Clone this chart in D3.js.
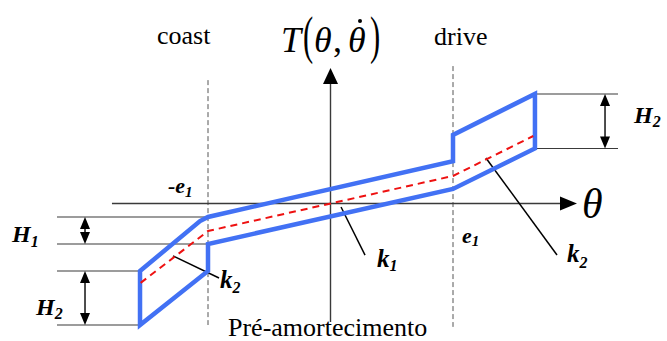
<!DOCTYPE html>
<html>
<head>
<meta charset="utf-8">
<script src="https://cdn.jsdelivr.net/npm/d3@7"></script>
<style>
  html, body { margin: 0; padding: 0; background: #fff; }
  svg { display: block; }
  text { font-family: "Liberation Serif", "Times New Roman", serif; fill: #000; }
</style>
</head>
<body>
<svg id="chart" width="667" height="341"></svg>
<script>
// Torque characteristic of the clutch damper: angle theta vs. torque T.
// Hysteresis band (blue) around the mean stiffness curve (red dashed).
const bandTheta  = [-1.555, -1.065, -1.0, 1.0, 1.0, 1.669, 1.669, 1.0, -1.0, -1.0, -1.555];
const bandTorque = [-2.5, -0.65, -0.5, 1.57, 2.54, 4.06, 2.04, 0.54, -1.5, -2.5, -4.5];

const meanTheta  = [-1.55, -1.0, 1.0, 1.655];
const meanTorque = [-2.94, -1.02, 1.02, 2.5];

// clearance stops: -e1 (coast) and e1 (drive)
const stopTheta  = [-1.0, 1.0];
const stopTop    = [4.57, 5.09];
const stopBottom = [-4.5, -4.57];

// axis extents
const thetaAxis  = [-1.784, 2.012];
const torqueAxis = [-4.39, 5.02];

// dimension marks: [name, theta of arrow, torque from, torque to, extension line from, to]
const dimName   = ["H1", "H2", "H2"];
const dimArrow  = [-2.004, -2.004, 2.241];
const dimFrom   = [-0.5, -2.5, 4.056];
const dimTo     = [-1.5, -4.5, 2.037];
const dimLineA  = [-2.233, -2.233, 1.669];
const dimLineB  = [-1.0, -1.555, 2.347];

// leader lines for stiffness labels
const leaderName = ["k1", "k2", "k2"];
const leaderFrom = [[0.086, -0.13], [-1.286, -1.94], [1.269, 1.685]];
const leaderTo   = [[0.282, -1.91], [-0.91, -2.76], [1.849, -1.907]];

const svg = d3.select("#chart");
const x = d3.scaleLinear().domain([-1, 1]).range([208, 453]);
const y = d3.scaleLinear().domain([0, 1]).range([203.5, 176.5]);

const axisColor = "#3a3a3a";

// dashed guides at the clearance stops
stopTheta.forEach((t, i) => {
  svg.append("line")
    .attr("x1", x(t)).attr("x2", x(t))
    .attr("y1", y(stopTop[i])).attr("y2", y(stopBottom[i]))
    .attr("stroke", "#555").attr("stroke-width", 1)
    .attr("stroke-dasharray", "5,3");
});

// extension lines of the dimension marks
dimName.forEach((n, i) => {
  [dimFrom[i], dimTo[i]].forEach(v => {
    svg.append("line")
      .attr("x1", x(dimLineA[i])).attr("x2", x(dimLineB[i]))
      .attr("y1", y(v)).attr("y2", y(v))
      .attr("stroke", axisColor).attr("stroke-width", 1.2);
  });
});

// axes
svg.append("line")
  .attr("x1", x(thetaAxis[0])).attr("x2", x(thetaAxis[1]) - 14)
  .attr("y1", y(0)).attr("y2", y(0))
  .attr("stroke", axisColor).attr("stroke-width", 1.4);
svg.append("line")
  .attr("x1", x(0)).attr("x2", x(0))
  .attr("y1", y(torqueAxis[0])).attr("y2", y(torqueAxis[1]) + 14)
  .attr("stroke", axisColor).attr("stroke-width", 1.4);

function arrowHead(tx, ty, dx, dy, len, half) {
  // tip at (tx,ty), pointing along unit vector (dx,dy)
  const bx = tx - dx * len, by = ty - dy * len;
  const px = -dy * half, py = dx * half;
  svg.append("path")
    .attr("d", `M${tx},${ty}L${bx + px},${by + py}L${bx - px},${by - py}Z`)
    .attr("fill", "#000");
}
arrowHead(x(thetaAxis[1]), y(0), 1, 0, 17, 7);
arrowHead(x(0), y(torqueAxis[1]), 0, -1, 16, 7.5);

// dimension arrows
dimName.forEach((n, i) => {
  const xa = x(dimArrow[i]);
  const y1 = y(dimFrom[i]), y2 = y(dimTo[i]);
  const top = Math.min(y1, y2), bot = Math.max(y1, y2);
  const len = Math.min(12, (bot - top) / 2 + 1);
  svg.append("line")
    .attr("x1", xa).attr("x2", xa).attr("y1", top + len - 1).attr("y2", bot - len + 1)
    .attr("stroke", "#000").attr("stroke-width", 1.4);
  arrowHead(xa, top, 0, -1, len, 5);
  arrowHead(xa, bot, 0, 1, len, 5);
});

// leader lines
leaderName.forEach((n, i) => {
  svg.append("line")
    .attr("x1", x(leaderFrom[i][0])).attr("y1", y(leaderFrom[i][1]))
    .attr("x2", x(leaderTo[i][0])).attr("y2", y(leaderTo[i][1]))
    .attr("stroke", "#000").attr("stroke-width", 1.5);
});

// hysteresis band
const line = d3.line().x(d => x(d[0])).y(d => y(d[1]));
svg.append("path")
  .attr("d", line(d3.zip(bandTheta, bandTorque)) + "Z")
  .attr("fill", "none")
  .attr("stroke", "#4271f4")
  .attr("stroke-width", 4.5)
  .attr("stroke-linejoin", "miter");

// mean stiffness curve
svg.append("path")
  .attr("d", line(d3.zip(meanTheta, meanTorque)))
  .attr("fill", "none")
  .attr("stroke", "#ee1111")
  .attr("stroke-width", 2)
  .attr("stroke-dasharray", "7,5");

// plain labels
svg.append("text").attr("x", 157).attr("y", 44).attr("font-size", 26).text("coast");
svg.append("text").attr("x", 434).attr("y", 45).attr("font-size", 26).text("drive");
svg.append("text").attr("x", 228).attr("y", 336).attr("font-size", 26).text("Pré-amortecimento");

// theta axis label
svg.append("text").attr("x", 582).attr("y", 218)
  .attr("font-size", 42).attr("font-style", "italic").text("θ");

// torque axis label T(θ, θ̇)
svg.append("text").attr("x", 281).attr("y", 52)
  .attr("font-size", 36).attr("font-style", "italic").text("T");
svg.append("text").attr("transform", "translate(303,53) scale(0.85,1.45)")
  .attr("font-size", 36).text("(");
svg.append("text").attr("x", 314).attr("y", 52)
  .attr("font-size", 36).attr("font-style", "italic").text("θ");
svg.append("text").attr("x", 333).attr("y", 52)
  .attr("font-size", 36).text(",");
svg.append("text").attr("x", 348).attr("y", 52)
  .attr("font-size", 36).attr("font-style", "italic").text("θ");
svg.append("circle").attr("cx", 360).attr("cy", 21).attr("r", 2).attr("fill", "#000");
svg.append("text").attr("transform", "translate(370,53) scale(0.85,1.45)")
  .attr("font-size", 36).text(")");

// italic bold symbols with subscripts
function symbol(px, py, main, sub, size, subSize, shift) {
  const t = svg.append("text").attr("x", px).attr("y", py)
    .attr("font-size", size).attr("font-weight", "bold").attr("font-style", "italic");
  t.append("tspan").text(main);
  t.append("tspan").attr("font-size", subSize).attr("dy", shift).text(sub);
}
symbol(12, 242, "H", "1", 24, 16, 5);
symbol(36, 315, "H", "2", 24, 16, 4);
symbol(634, 123, "H", "2", 24, 16, 4);
symbol(168, 193, "-e", "1", 22, 15, 4);
symbol(462, 243, "e", "1", 22, 15, 3);
symbol(377, 267, "k", "1", 25, 16, 4);
symbol(220, 288, "k", "2", 25, 16, 5);
symbol(567, 262, "k", "2", 25, 16, 6);
</script>
</body>
</html>
